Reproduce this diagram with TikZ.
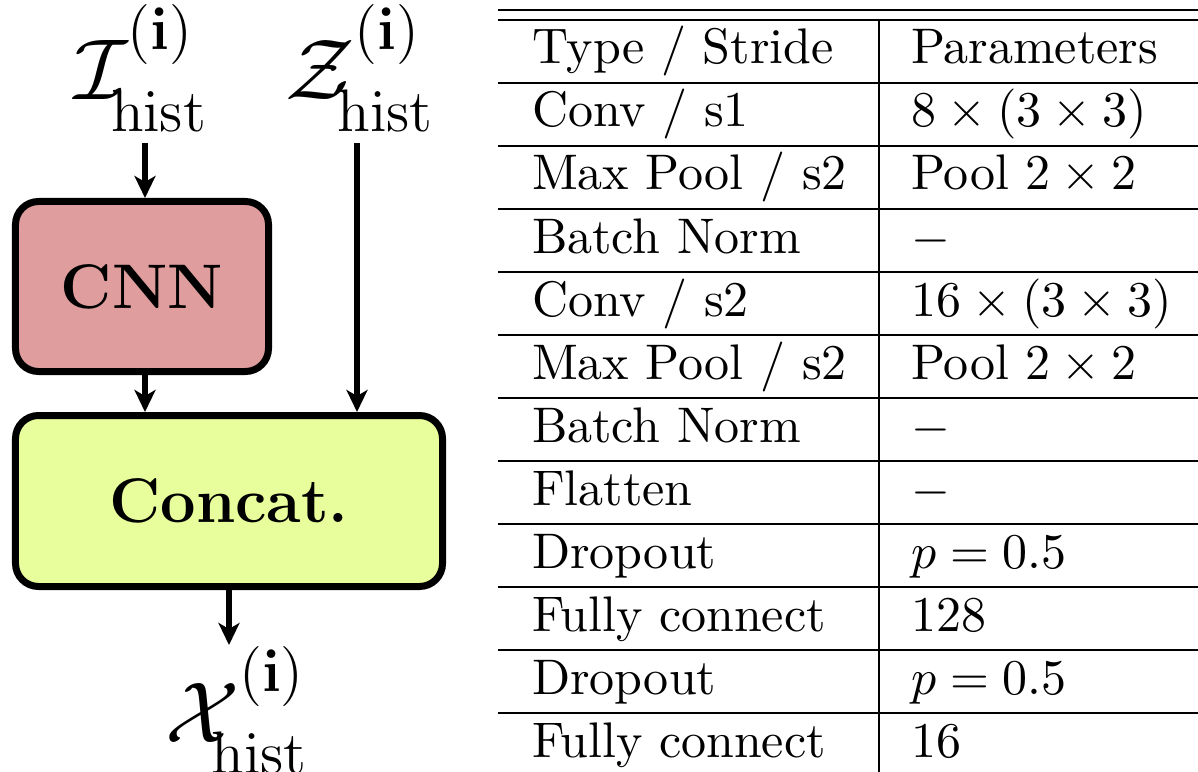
\documentclass[tikz,border=0pt]{standalone}
\usetikzlibrary{arrows.meta}
\definecolor{cnnfill}{RGB}{223,157,157}
\definecolor{catfill}{RGB}{232,253,155}
\newcommand{\histsub}[1]{\kern-#1\mathrm{hist}\rule{0pt}{10.7pt}}
\newcommand{\isup}{(\mathbf{i})\rule[-4.2pt]{0pt}{0pt}}
\begin{document}
\begin{tikzpicture}[x=0.2pt,y=-0.2pt,
  rule/.style={line width=0.45pt},
  cell/.style={anchor=base west,inner sep=0pt,font=\fontsize{10}{12}\selectfont},
  lbl/.style={anchor=base west,inner sep=0pt,font=\LARGE},
  blk/.style={draw,line width=1.4pt,rounded corners=4.6pt,inner sep=0pt,font=\fontsize{12.6}{15}\selectfont\bfseries},
  arr/.style={line width=1.2pt,-{Stealth[length=4.4pt,width=4.2pt,inset=1.2pt]}}]
\useasboundingbox (0,0) rectangle (1198,772);
\clip (0,0) rectangle (1198,772);
% ---- diagram ----
\node[lbl] (I) at (73,100) {$\mathcal{I}^{\isup}_{\histsub{2pt}}$};
\node[lbl] (Z) at (284,100) {$\mathcal{Z}^{\isup}_{\histsub{2pt}}$};
\node[lbl] (X) at (164,742) {$\mathcal{X}^{\isup}_{\histsub{3pt}}$};
\node[blk,fill=cnnfill,minimum width=50.6pt,minimum height=34pt] (cnn) at (142,286.5) {CNN};
\node[blk,fill=catfill,minimum width=85.4pt,minimum height=34.2pt] (cat) at (229,501) {Concat.};
\coordinate (ia) at (145,143);
\coordinate (za) at (357,143);
\coordinate (ca) at (145,375);
\coordinate (oa) at (229,645);
\draw[arr] (ia) -- (ia |- cnn.north);
\draw[arr] (za) -- (za |- cat.north);
\draw[arr] (ca |- cnn.south) -- (ca |- cat.north);
\draw[arr] (oa |- cat.south) -- (oa);
% ---- table ----
\draw[rule] (498,10) -- (1198,10);
\foreach \y in {20,83,146,209,272,335,398,461,524,587,650,713}
  \draw[rule] (498,\y) -- (1198,\y);
\draw[rule] (879,20) -- (879,772);
\node[cell] (a0) at (531,64) {Type / Stride};
\node[cell] (b0) at (910,64) {Parameters};
\node[cell] (a1) at (531,127) {Conv / s1};
\node[cell] (b1) at (910,127) {$8\times(3\times3)$};
\node[cell] (a2) at (531,190) {Max Pool / s2};
\node[cell] (b2) at (910,190) {Pool $2\times2$};
\node[cell] (a3) at (531,253) {Batch Norm};
\node[cell] (b3) at (910,253) {$-$};
\node[cell] (a4) at (531,316) {Conv / s2};
\node[cell] (b4) at (910,316) {$16\times(3\times3)$};
\node[cell] (a5) at (531,379) {Max Pool / s2};
\node[cell] (b5) at (910,379) {Pool $2\times2$};
\node[cell] (a6) at (531,442) {Batch Norm};
\node[cell] (b6) at (910,442) {$-$};
\node[cell] (a7) at (531,505) {Flatten};
\node[cell] (b7) at (910,505) {$-$};
\node[cell] (a8) at (531,568) {Dropout};
\node[cell] (b8) at (910,568) {$p=0.5$};
\node[cell] (a9) at (531,631) {Fully connect};
\node[cell] (b9) at (910,631) {128};
\node[cell] (a10) at (531,694) {Dropout};
\node[cell] (b10) at (910,694) {$p=0.5$};
\node[cell] (a11) at (531,757) {Fully connect};
\node[cell] (b11) at (910,757) {16};
\end{tikzpicture}
\end{document}
